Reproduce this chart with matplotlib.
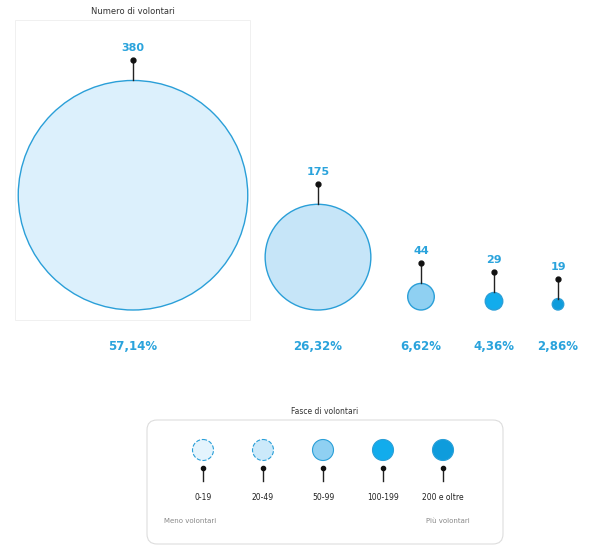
import numpy as np
import matplotlib
matplotlib.use("Agg")
import matplotlib.pyplot as plt
from matplotlib.patches import Circle, FancyBboxPatch, Rectangle

# data
values = [380, 175, 44, 29, 19]
pct_labels = ["57,14%", "26,32%", "6,62%", "4,36%", "2,86%"]
fill_colors = ["#dcf0fc", "#c6e5f8", "#8fd0f2", "#12acec", "#0e9cdc"]
legend_labels = ["0-19", "20-49", "50-99", "100-199", "200 e oltre"]
legend_colors = ["#e4f4fd", "#cbe9fa", "#8fd0f2", "#12acec", "#0e9cdc"]

chart_title = "Numero di volontari"
legend_title = "Fasce di volontari"
legend_left = "Meno volontari"
legend_right = "Più volontari"

blue = "#2aa3dc"
edge = "#2a9fd8"

# layout (pixel units)
W, H = 589, 547
slot_x = [133, 318, 421, 494, 558]
baseline = 310
px_per_unit = 0.302

fig = plt.figure(figsize=(W / 100, H / 100), dpi=100)
ax = fig.add_axes([0, 0, 1, 1])
ax.set_xlim(0, W)
ax.set_ylim(H, 0)
ax.set_aspect("equal")
ax.axis("off")

# faint panel around the biggest bubble
ax.add_patch(Rectangle((15, 20), 235, 300, fill=False, lw=0.6, ec="#eeeeee"))
ax.text(133, 12, chart_title, ha="center", va="center", fontsize=6, color="#333333")

for x, v, p, c in zip(slot_x, values, pct_labels, fill_colors):
    r = v * px_per_unit
    cy = baseline - r
    ax.add_patch(Circle((x, cy), r, fc=c, ec=edge, lw=1.0))
    top = cy - r
    ax.plot([x, x], [top, top - 20], color="#222222", lw=1.0)
    ax.plot(x, top - 20, "o", color="#111111", ms=3.5)
    ax.text(x, top - 32, str(v), ha="center", va="center", fontsize=8,
            fontweight="bold", color=blue)
    ax.text(x, 347, p, ha="center", va="center", fontsize=8.5,
            fontweight="bold", color=blue)

# legend box
ax.add_patch(FancyBboxPatch((147, 420), 356, 124, boxstyle="round,pad=0,rounding_size=10",
                            fc="white", ec="#dddddd", lw=0.8))
ax.text(325, 411, legend_title, ha="center", va="center", fontsize=5.5, color="#333333",
        bbox=dict(fc="white", ec="none", pad=1))
leg_x = np.linspace(203, 443, len(legend_labels))
for x, lab, c in zip(leg_x, legend_labels, legend_colors):
    ax.add_patch(Circle((x, 450), 10.5, fc=c, ec=edge, lw=0.8,
                        ls="--" if c in legend_colors[:2] else "-"))
    ax.plot([x, x], [468, 481], color="#222222", lw=1.0)
    ax.plot(x, 468, "o", color="#111111", ms=3)
    ax.text(x, 497, lab, ha="center", va="center", fontsize=5.5, color="#222222")
ax.text(190, 521, legend_left, ha="center", va="center", fontsize=5, color="#888888")
ax.text(448, 521, legend_right, ha="center", va="center", fontsize=5, color="#888888")

fig.savefig("out.png", dpi=100)
